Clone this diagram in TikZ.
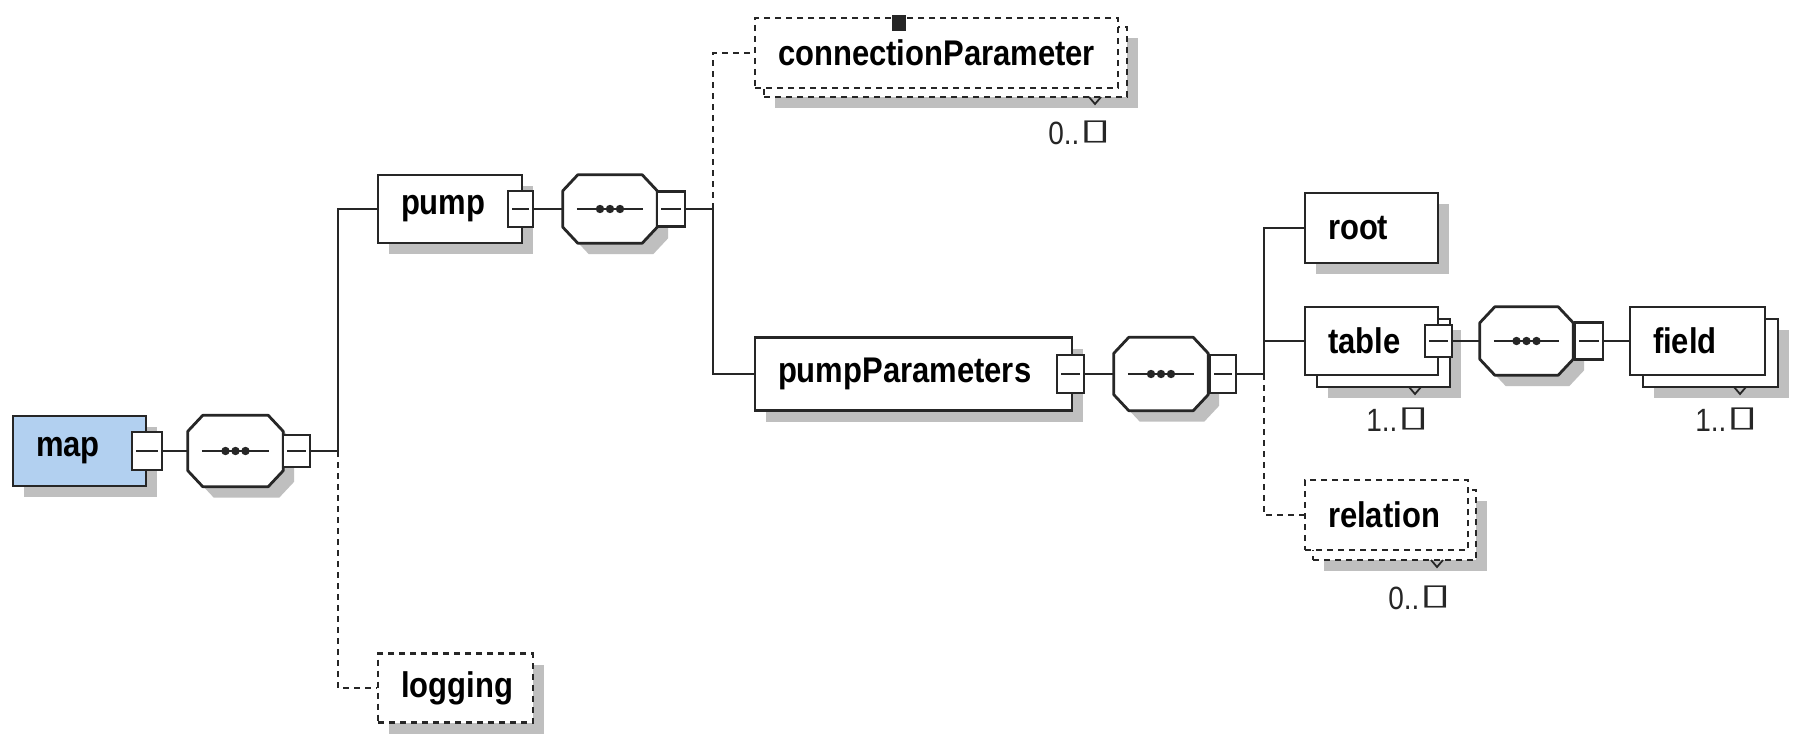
\documentclass[tikz,border=0pt]{standalone}
\usepackage{graphicx}
\usepackage{fontspec}
\setmainfont{Liberation Sans}
\newfontfamily\dejavu{DejaVu Sans}
\usetikzlibrary{shadows}
\definecolor{mapblue}{RGB}{178,208,240}
\newcommand{\tx}[1]{\scalebox{1}[1.15]{#1}}
\newcommand{\infbox}{{\dejavu\raisebox{4pt}{\scalebox{2.1}[0.9]{▯}}}}
\newcommand{\seqdraw}[1]{%
  \draw[seqline, shd] ([xshift=15pt]#1.north west) -- ([xshift=-15pt]#1.north east)
    -- ([yshift=-16pt]#1.north east) -- ([yshift=16pt]#1.south east)
    -- ([xshift=-15pt]#1.south east) -- ([xshift=15pt]#1.south west)
    -- ([yshift=16pt]#1.south west) -- ([yshift=-16pt]#1.north west) -- cycle;
  \draw[line width=2.2pt, draw=black!85] ([xshift=14pt]#1.west) -- ([xshift=-14pt]#1.east);
  \foreach \d in {-10,0,10} \fill[black!85] ([xshift=\d pt]#1.center) circle (4.2pt);}
\begin{document}
\begin{tikzpicture}[x=1pt,y=-1pt,
  ln/.style={line width=2.6pt, draw=black!85},
  dsh/.style={dash pattern=on 6pt off 5pt},
  shd/.style={drop shadow={shadow xshift=11pt,shadow yshift=-11pt,fill=black!25,opacity=1}},
  elem/.style={rectangle, draw=black!85, line width=2.8pt, fill=white, inner xsep=23pt, inner ysep=0pt, align=left, font=\fontsize{31}{36}\selectfont\bfseries},
  opt/.style={elem, dsh},
  mins/.style={rectangle, draw=black!85, line width=2.4pt, fill=white, inner sep=0pt,
    path picture={\draw[line width=2pt, draw=black!85] ([xshift=4pt]path picture bounding box.west) -- ([xshift=-4pt]path picture bounding box.east);}},
  seqbox/.style={rectangle, draw=none, inner sep=0pt},
  seqline/.style={draw=black!85, line width=2.8pt, fill=white, line join=round},
  card/.style={font=\fontsize{28}{32}\selectfont, inner sep=0pt, text=black!85},
  notch/.style={draw=black!85, line width=1.8pt}
]
\useasboundingbox[fill=white] (0,0) rectangle (1793,738);

% map
\node[elem, shd, fill=mapblue, minimum width=133pt, minimum height=70pt, text width=87pt] (map) at (79.5,451) {\tx{map}};
\node[mins, minimum width=30pt, minimum height=38pt] (mapm) at (147,451) {};
\node[seqbox, minimum width=95pt, minimum height=71pt] (s1) at (235.5,451) {};
\seqdraw{s1}
\node[mins, minimum width=27pt, minimum height=32pt] (s1m) at (296.5,451) {};
\coordinate (j1) at (338,451);

% pump
\node[elem, shd, minimum width=144pt, minimum height=68pt, text width=98pt] (pump) at (450,209) {\tx{pump}};
\node[mins, minimum width=25pt, minimum height=36pt] (pumpm) at (520.5,209) {};
\node[seqbox, minimum width=94pt, minimum height=68pt] (s2) at (610,209) {};
\seqdraw{s2}
\node[mins, minimum width=28pt, minimum height=35pt] (s2m) at (671,209) {};
\coordinate (j2) at (713,209);

% connectionParameter
\node[opt, shd, minimum width=363pt, minimum height=70pt] (cpb) at (945.5,62) {};
\node[opt, minimum width=363pt, minimum height=70pt, text width=317pt] (cp) at (936.5,53) {\tx{connectionParameter}};
\fill[black!85] (892,15) rectangle (906,31);
\draw[notch] (1089,97) -- (1095,104) -- (1101,97);
\node[card] (cpc) at (1080,133) {\tx{0..\infbox}};

% pumpParameters
\node[elem, shd, minimum width=317pt, minimum height=73pt, text width=271pt] (pp) at (913.5,374) {\tx{pumpParameters}};
\node[mins, minimum width=27pt, minimum height=38pt] (ppm) at (1070.5,374) {};
\node[seqbox, minimum width=94pt, minimum height=73pt] (s3) at (1161,374) {};
\seqdraw{s3}
\node[mins, minimum width=26pt, minimum height=38pt] (s3m) at (1223,374) {};
\coordinate (j3) at (1264,374);

% root
\node[elem, shd, minimum width=133pt, minimum height=70pt, text width=87pt] (root) at (1371.5,228) {\tx{root}};

% table
\node[elem, shd, minimum width=133pt, minimum height=68pt] (tableb) at (1383.5,353) {};
\node[elem, minimum width=133pt, minimum height=68pt, text width=87pt] (table) at (1371.5,341) {\tx{table}};
\node[mins, minimum width=27pt, minimum height=32pt] (tablem) at (1438.5,341) {};
\draw[notch] (1409,387) -- (1415,394) -- (1421,387);
\node[card] (tablec) at (1398,420) {\tx{1..\infbox}};
\node[seqbox, minimum width=93pt, minimum height=68pt] (s4) at (1526.5,341) {};
\seqdraw{s4}
\node[mins, minimum width=28pt, minimum height=37pt] (s4m) at (1589,341) {};

% field
\node[elem, shd, minimum width=135pt, minimum height=68pt] (fieldb) at (1710.5,353) {};
\node[elem, minimum width=135pt, minimum height=68pt, text width=89pt] (field) at (1697.5,341) {\tx{field}};
\draw[notch] (1734,387) -- (1740,394) -- (1746,387);
\node[card] (fieldc) at (1727,420) {\tx{1..\infbox}};

% relation
\node[opt, shd, minimum width=163pt, minimum height=70pt] (relb) at (1394.5,525) {};
\node[opt, minimum width=163pt, minimum height=70pt, text width=117pt] (rel) at (1386.5,515) {\tx{relation}};
\draw[notch] (1431,560) -- (1437,567) -- (1443,560);
\node[card] (relc) at (1420,598) {\tx{0..\infbox}};

% logging
\node[opt, shd, minimum width=155pt, minimum height=69pt, text width=109pt] (log) at (455.5,688) {\tx{logging}};

% connectors
\draw[ln] (mapm.east) -- (s1.west);
\draw[ln] (s1m.east) -- (j1);
\draw[ln] (j1) |- (pump.west);
\draw[ln, dsh] (j1) |- (log.west);
\draw[ln] (pumpm.east) -- (s2.west);
\draw[ln] (s2m.east) -- (j2);
\draw[ln] (j2) |- (pp.west);
\draw[ln, dsh] (j2) |- (cp.west);
\draw[ln] (ppm.east) -- (s3.west);
\draw[ln] (s3m.east) -- (j3);
\draw[ln] (j3) |- (root.west);
\draw[ln] (j3) |- (table.west);
\draw[ln, dsh] (j3) |- (rel.west);
\draw[ln] (tablem.east) -- (s4.west);
\draw[ln] (s4m.east) -- (field.west);
\end{tikzpicture}
\end{document}
